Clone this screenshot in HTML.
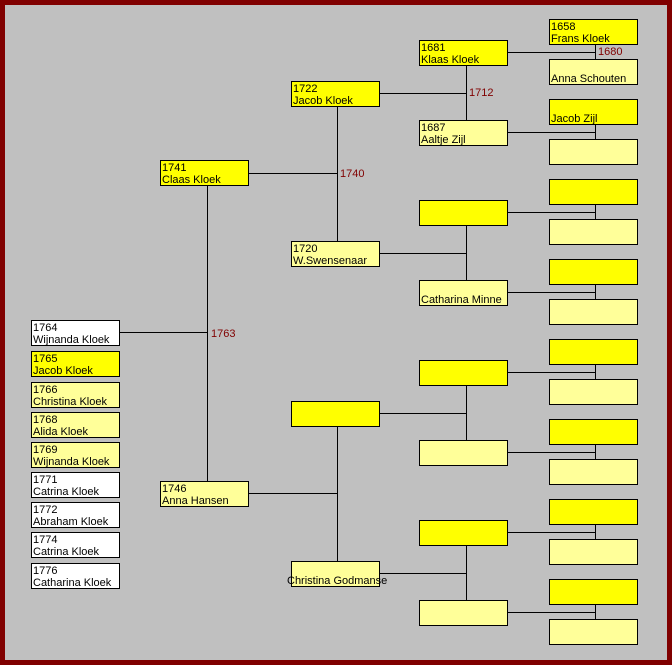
<!DOCTYPE html>
<html><head><meta charset="utf-8"><style>
html,body{margin:0;padding:0;background:#c0c0c0;}
svg{display:block;font-family:"Liberation Sans",sans-serif;font-size:11px;}
</style></head><body>
<svg width="672" height="665" viewBox="0 0 672 665" xmlns="http://www.w3.org/2000/svg">
<rect x="0" y="0" width="672" height="665" fill="#800000"/>
<rect x="5" y="5" width="662" height="655" fill="#c0c0c0"/>
<g stroke="#000" stroke-width="1" fill="none" shape-rendering="crispEdges">
<!-- gen1 -->
<path d="M119 332.5H207.5M207.5 185V481"/>
<!-- gen2 -->
<path d="M249 173.5H337.5M337.5 106V241"/>
<path d="M249 493.5H337.5M337.5 426V561"/>
<!-- gen3 -->
<path d="M379 93.5H466.5M466.5 65V120"/>
<path d="M379 253.5H466.5M466.5 225V280"/>
<path d="M379 413.5H466.5M466.5 385V440"/>
<path d="M379 573.5H466.5M466.5 545V600"/>
<!-- gen4 -->
<path d="M508 52.5H595.5M595.5 44V59"/>
<path d="M508 132.5H595.5M595.5 124V139"/>
<path d="M508 212.5H595.5M595.5 204V219"/>
<path d="M508 292.5H595.5M595.5 284V299"/>
<path d="M508 372.5H595.5M595.5 364V379"/>
<path d="M508 452.5H595.5M595.5 444V459"/>
<path d="M508 532.5H595.5M595.5 524V539"/>
<path d="M508 612.5H595.5M595.5 604V619"/>
</g>
<g stroke="#000" stroke-width="1" shape-rendering="crispEdges">
<!-- children -->
<rect x="31.5" y="320.5" width="88" height="25" fill="#fff"/>
<rect x="31.5" y="351.5" width="88" height="25" fill="#ffff00"/>
<rect x="31.5" y="382.5" width="88" height="25" fill="#ffff99"/>
<rect x="31.5" y="412.5" width="88" height="25" fill="#ffff99"/>
<rect x="31.5" y="442.5" width="88" height="25" fill="#ffff99"/>
<rect x="31.5" y="472.5" width="88" height="25" fill="#fff"/>
<rect x="31.5" y="502.5" width="88" height="25" fill="#fff"/>
<rect x="31.5" y="532.5" width="88" height="25" fill="#fff"/>
<rect x="31.5" y="563.5" width="88" height="25" fill="#fff"/>
<!-- gen1 -->
<rect x="160.5" y="160.5" width="88" height="25" fill="#ffff00"/>
<rect x="160.5" y="481.5" width="88" height="25" fill="#ffff99"/>
<!-- gen2 -->
<rect x="291.5" y="81.5" width="88" height="25" fill="#ffff00"/>
<rect x="291.5" y="241.5" width="88" height="25" fill="#ffff99"/>
<rect x="291.5" y="401.5" width="88" height="25" fill="#ffff00"/>
<rect x="291.5" y="561.5" width="88" height="25" fill="#ffff99"/>
<!-- gen3 -->
<rect x="419.5" y="40.5" width="88" height="25" fill="#ffff00"/>
<rect x="419.5" y="120.5" width="88" height="25" fill="#ffff99"/>
<rect x="419.5" y="200.5" width="88" height="25" fill="#ffff00"/>
<rect x="419.5" y="280.5" width="88" height="25" fill="#ffff99"/>
<rect x="419.5" y="360.5" width="88" height="25" fill="#ffff00"/>
<rect x="419.5" y="440.5" width="88" height="25" fill="#ffff99"/>
<rect x="419.5" y="520.5" width="88" height="25" fill="#ffff00"/>
<rect x="419.5" y="600.5" width="88" height="25" fill="#ffff99"/>
<!-- gen4 -->
<rect x="549.5" y="19.5" width="88" height="25" fill="#ffff00"/>
<rect x="549.5" y="59.5" width="88" height="25" fill="#ffff99"/>
<rect x="549.5" y="99.5" width="88" height="25" fill="#ffff00"/>
<rect x="549.5" y="139.5" width="88" height="25" fill="#ffff99"/>
<rect x="549.5" y="179.5" width="88" height="25" fill="#ffff00"/>
<rect x="549.5" y="219.5" width="88" height="25" fill="#ffff99"/>
<rect x="549.5" y="259.5" width="88" height="25" fill="#ffff00"/>
<rect x="549.5" y="299.5" width="88" height="25" fill="#ffff99"/>
<rect x="549.5" y="339.5" width="88" height="25" fill="#ffff00"/>
<rect x="549.5" y="379.5" width="88" height="25" fill="#ffff99"/>
<rect x="549.5" y="419.5" width="88" height="25" fill="#ffff00"/>
<rect x="549.5" y="459.5" width="88" height="25" fill="#ffff99"/>
<rect x="549.5" y="499.5" width="88" height="25" fill="#ffff00"/>
<rect x="549.5" y="539.5" width="88" height="25" fill="#ffff99"/>
<rect x="549.5" y="579.5" width="88" height="25" fill="#ffff00"/>
<rect x="549.5" y="619.5" width="88" height="25" fill="#ffff99"/>
</g>
<g fill="#000">
<text x="33" y="331">1764</text><text x="33" y="343">Wijnanda Kloek</text>
<text x="33" y="362">1765</text><text x="33" y="374">Jacob Kloek</text>
<text x="33" y="393">1766</text><text x="33" y="405">Christina Kloek</text>
<text x="33" y="423">1768</text><text x="33" y="435">Alida Kloek</text>
<text x="33" y="453">1769</text><text x="33" y="465">Wijnanda Kloek</text>
<text x="33" y="483">1771</text><text x="33" y="495">Catrina Kloek</text>
<text x="33" y="513">1772</text><text x="33" y="525">Abraham Kloek</text>
<text x="33" y="543">1774</text><text x="33" y="555">Catrina Kloek</text>
<text x="33" y="574">1776</text><text x="33" y="586">Catharina Kloek</text>
<text x="162" y="171">1741</text><text x="162" y="183">Claas Kloek</text>
<text x="162" y="492">1746</text><text x="162" y="504">Anna Hansen</text>
<text x="293" y="92">1722</text><text x="293" y="104">Jacob Kloek</text>
<text x="293" y="252">1720</text><text x="293" y="264">W.Swensenaar</text>
<text x="287" y="584">Christina Godmanse</text>
<text x="421" y="51">1681</text><text x="421" y="63">Klaas Kloek</text>
<text x="421" y="131">1687</text><text x="421" y="143">Aaltje Zijl</text>
<text x="421" y="303">Catharina Minne</text>
<text x="551" y="30">1658</text><text x="551" y="42">Frans Kloek</text>
<text x="551" y="82">Anna Schouten</text>
<text x="551" y="122">Jacob Zijl</text>
</g>
<g fill="#800000">
<text x="211" y="337">1763</text>
<text x="340" y="177">1740</text>
<text x="469" y="96">1712</text>
<text x="598" y="55">1680</text>
</g>
</svg>
</body></html>
